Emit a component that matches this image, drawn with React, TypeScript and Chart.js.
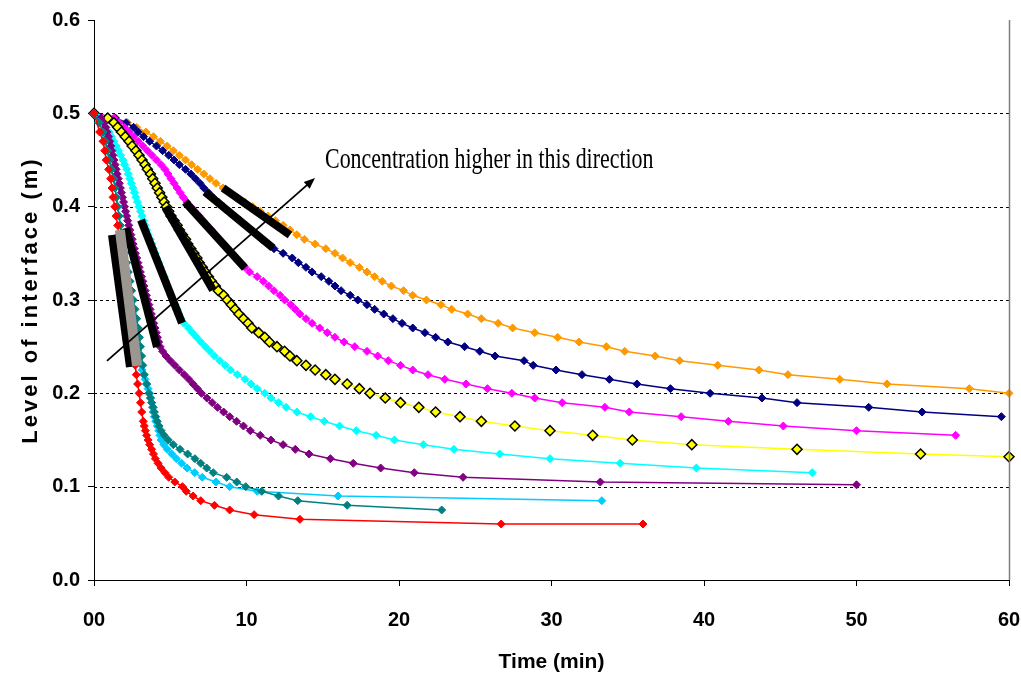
import React, { useEffect, useRef } from 'react';
import { Chart, registerables } from 'chart.js';

Chart.register(...registerables);

// ---------- axis ticks ----------
const xTickLabels = ['00', '10', '20', '30', '40', '50', '60'];
const yTickLabels = ['0.0', '0.1', '0.2', '0.3', '0.4', '0.5', '0.6'];

// ---------- measured interface levels (m), 5 mm steps ----------
const levels = [
  0.5, 0.495, 0.49, 0.485, 0.48, 0.475, 0.47, 0.465, 0.46, 0.455,
  0.45, 0.445, 0.44, 0.435, 0.43, 0.425, 0.42, 0.415, 0.41, 0.405,
  0.4, 0.395, 0.39, 0.385, 0.38, 0.375, 0.37, 0.365, 0.36, 0.355,
  0.35, 0.345, 0.34, 0.335, 0.33, 0.325, 0.32, 0.315, 0.31, 0.305,
  0.3, 0.295, 0.29, 0.285, 0.28, 0.275, 0.27, 0.265, 0.26, 0.255,
  0.25, 0.245, 0.24, 0.235, 0.23, 0.225, 0.22, 0.215, 0.21, 0.205,
  0.2, 0.195, 0.19, 0.185, 0.18, 0.175, 0.17, 0.165, 0.16, 0.155,
  0.15, 0.145, 0.14, 0.135, 0.13, 0.125, 0.12, 0.115, 0.11, 0.105,
  0.1,
];

// ---------- times (min) for each series ----------
const orangeT = [
  0, 1.4, 2.2, 2.8, 3.4, 3.9, 4.35, 4.8, 5.2, 5.6,
  6.0, 6.4, 6.8, 7.2, 7.6, 8.0, 8.46, 8.9, 9.4, 9.9,
  10.4, 10.9, 11.4, 11.9, 12.4, 12.85, 13.3, 13.8, 14.5, 15.2,
  15.8, 16.3, 16.8, 17.4, 17.9, 18.4, 18.9, 19.5, 20.3, 20.9,
  21.8, 22.75, 23.45, 24.5, 25.4, 26.5, 27.45, 28.9, 30.4, 31.8,
  33.6, 34.8, 36.8, 38.4, 40.9, 43.6, 45.5, 48.9, 52.0, 57.4,
  60.0,
];
const orangeH = levels.slice(0, 61);

const navyT = [
  0, 1.4, 2.1, 2.6, 2.9, 3.25, 3.65, 4.1, 4.5, 4.9,
  5.25, 5.6, 6.0, 6.35, 6.65, 6.95, 7.2, 7.5, 7.8, 8.15,
  8.5, 8.85, 9.2, 9.6, 9.95, 10.3, 10.65, 11.0, 11.4, 11.8,
  12.4, 13.0, 13.4, 13.9, 14.3, 14.9, 15.4, 15.8, 16.2, 16.8,
  17.3, 17.9, 18.4, 19.0, 19.6, 20.2, 20.9, 21.7, 22.4, 23.2,
  24.3, 25.3, 26.3, 28.2, 28.8, 30.3, 32.0, 33.8, 35.6, 37.8,
  40.4, 43.8, 46.1, 50.8, 54.3, 59.5,
];
const navyH = levels.slice(0, 66);

const magentaT = [
  0, 1.3, 1.65, 2.0, 2.3, 2.6, 2.9, 3.2, 3.5, 3.8,
  4.1, 4.4, 4.65, 4.85, 5.05, 5.25, 5.45, 5.65, 5.85, 6.1,
  6.35, 6.6, 6.9, 7.15, 7.4, 7.7, 7.95, 8.2, 8.5, 8.75,
  9.05, 9.3, 9.6, 9.9, 10.2, 10.7, 11.1, 11.45, 11.8, 12.2,
  12.5, 12.9, 13.2, 13.5, 13.9, 14.3, 14.8, 15.3, 15.8, 16.4,
  17.1, 17.9, 18.6, 19.3, 20.1, 20.9, 21.9, 23.0, 24.4, 25.8,
  27.4, 28.9, 30.7, 33.5, 35.1, 38.5, 41.6, 45.2, 50.0, 56.5,
];
const magentaH = levels.slice(0, 70);

const yellowT = [
  0, 0.9, 1.3, 1.55, 1.8, 2.05, 2.3, 2.5, 2.75, 2.95,
  3.15, 3.35, 3.5, 3.7, 3.85, 4.0, 4.15, 4.3, 4.45, 4.6,
  4.75, 4.9, 5.05, 5.25, 5.45, 5.6, 5.8, 6.0, 6.15, 6.35,
  6.55, 6.75, 6.9, 7.1, 7.3, 7.5, 7.7, 7.95, 8.15, 8.5,
  8.74, 9.0, 9.25, 9.5, 9.8, 10.1, 10.35, 10.8, 11.2, 11.5,
  12.0, 12.5, 12.85, 13.3, 13.9, 14.5, 15.2, 15.8, 16.6, 17.4,
  18.1, 19.1, 20.1, 21.3, 22.4, 24.0, 25.4, 27.6, 29.9, 32.7,
  35.3, 39.2, 46.1, 54.2, 60.0,
];
const yellowH = [...levels.slice(0, 74), 0.132];

const cyanT = [
  0, 0.3, 0.55, 0.8, 1.0, 1.15, 1.3, 1.45, 1.6, 1.75,
  1.9, 2.0, 2.15, 2.25, 2.35, 2.45, 2.55, 2.65, 2.75, 2.85,
  2.95, 3.05, 3.15, 3.25, 3.35, 3.45, 3.55, 3.7, 3.8, 3.9,
  4.0, 4.1, 4.25, 4.35, 4.45, 4.6, 4.7, 4.8, 4.95, 5.05,
  5.2, 5.3, 5.45, 5.55, 5.7, 5.9, 6.2, 6.45, 6.73, 7.0,
  7.3, 7.6, 7.9, 8.25, 8.6, 8.95, 9.4, 9.9, 10.3, 10.7,
  11.2, 11.6, 12.1, 12.6, 13.3, 14.2, 15.1, 16.1, 17.2, 18.5,
  19.7, 21.6, 23.6, 26.6, 29.9, 34.5, 39.5, 47.1,
];
const cyanH = levels.slice(0, 78);

const purpleT = [
  0, 0.45, 0.63, 0.76, 0.86, 0.95, 1.03, 1.1, 1.17, 1.24,
  1.31, 1.38, 1.45, 1.52, 1.59, 1.66, 1.73, 1.8, 1.87, 1.94,
  2.0, 2.07, 2.14, 2.21, 2.28, 2.35, 2.42, 2.5, 2.57, 2.65,
  2.72, 2.8, 2.88, 2.96, 3.04, 3.12, 3.2, 3.28, 3.36, 3.44,
  3.52, 3.6, 3.68, 3.76, 3.84, 3.92, 4.0, 4.08, 4.16, 4.24,
  4.33, 4.5, 4.72, 5.0, 5.3, 5.6, 5.92, 6.22, 6.5, 6.78,
  7.05, 7.4, 7.75, 8.1, 8.5, 8.9, 9.35, 9.8, 10.25, 10.9,
  11.6, 12.4, 13.2, 14.1, 15.5, 17.0, 18.8, 21.0, 24.2, 33.2,
  50.0,
];
const purpleH = [...levels.slice(0, 80), 0.102];

const lightBlueT = [
  0, 0.3, 0.5, 0.65, 0.8, 0.98, 1.12, 1.28, 1.38, 1.48,
  1.57, 1.66, 1.73, 1.82, 1.92, 2.02, 2.12, 2.22, 2.32, 2.42,
  2.52, 2.62, 2.72, 2.8, 2.88, 2.96, 3.04, 3.12,
  3.15, 3.25, 3.35, 3.45, 3.55, 3.65, 3.72, 3.78, 3.83, 3.88,
  3.95, 4.05, 4.15, 4.25, 4.32, 4.4, 4.58, 4.8, 5.1, 5.4,
  5.75, 6.1, 6.6, 7.1, 8.0, 8.9, 10.7, 16.0, 33.3,
];
const lightBlueH = [
  0.5, 0.49, 0.48, 0.47, 0.46, 0.45, 0.44, 0.43, 0.42, 0.41,
  0.4, 0.39, 0.38, 0.37, 0.36, 0.35, 0.34, 0.33, 0.32, 0.31,
  0.3, 0.29, 0.28, 0.27, 0.26, 0.25, 0.24, 0.23,
  0.225, 0.22, 0.215, 0.21, 0.205, 0.2, 0.195, 0.19, 0.185, 0.18,
  0.175, 0.17, 0.165, 0.16, 0.155, 0.15, 0.145, 0.14, 0.135, 0.13,
  0.125, 0.12, 0.115, 0.11, 0.105, 0.1, 0.095, 0.09, 0.085,
];

const tealT = [
  0, 0.35, 0.6, 0.75, 0.9, 1.03, 1.15, 1.28, 1.38, 1.46,
  1.54, 1.63, 1.72, 1.82, 1.92, 2.03, 2.14, 2.25, 2.36, 2.47,
  2.58, 2.69, 2.8, 2.9, 2.98, 3.05, 3.12, 3.2, 3.3, 3.45,
  3.6,
  3.7, 3.78, 3.88, 3.96, 4.05, 4.15, 4.27, 4.4, 4.6, 4.87,
  5.2, 5.64, 6.14, 6.62, 7.0, 7.39, 7.82, 8.7, 9.36, 9.95,
  11.0, 12.1, 13.36, 16.6, 22.8,
];
const tealH = [
  0.5, 0.49, 0.48, 0.47, 0.46, 0.45, 0.44, 0.43, 0.42, 0.41,
  0.4, 0.39, 0.38, 0.37, 0.36, 0.35, 0.34, 0.33, 0.32, 0.31,
  0.3, 0.29, 0.28, 0.27, 0.26, 0.25, 0.24, 0.23, 0.22, 0.21,
  0.2,
  0.195, 0.19, 0.185, 0.18, 0.175, 0.17, 0.165, 0.16, 0.155, 0.15,
  0.145, 0.14, 0.135, 0.13, 0.125, 0.12, 0.115, 0.11, 0.105, 0.1,
  0.095, 0.09, 0.085, 0.08, 0.075,
];

const redT = [
  0, 0.37, 0.59, 0.7, 0.8, 0.96, 1.09, 1.18, 1.25, 1.36,
  1.45, 1.55, 1.65, 1.75, 1.85, 1.95, 2.05, 2.15, 2.25, 2.32,
  2.4, 2.47, 2.53, 2.58, 2.62, 2.66, 2.7, 2.77, 2.86, 2.96,
  3.05, 3.13, 3.23, 3.3, 3.37, 3.45, 3.55, 3.65, 3.78, 3.9,
  4.02, 4.2, 4.4, 4.65, 4.9, 5.3, 5.8, 6.05, 6.5, 7.0,
  7.9, 8.9, 10.5, 13.5, 26.7, 36.0,
];
const redH = [
  0.5, 0.48, 0.47, 0.46, 0.45, 0.44, 0.43, 0.42, 0.41, 0.4,
  0.39, 0.38, 0.37, 0.36, 0.35, 0.34, 0.33, 0.32, 0.31, 0.3,
  0.29, 0.28, 0.27, 0.26, 0.25, 0.24, 0.23, 0.22, 0.21, 0.2,
  0.19, 0.18, 0.17, 0.165, 0.16, 0.155, 0.15, 0.145, 0.14, 0.135,
  0.13, 0.125, 0.12, 0.115, 0.11, 0.105, 0.1, 0.095, 0.09, 0.085,
  0.08, 0.075, 0.07, 0.065, 0.06, 0.06,
];

// ---------- tangent lines [t1, h1, t2, h2] ----------
const tangentOrange = [8.46, 0.42, 12.85, 0.3697];
const tangentNavy = [7.28, 0.4157, 11.74, 0.3557];
const tangentMagenta = [5.97, 0.405, 9.9, 0.3343];
const tangentYellow = [4.66, 0.3997, 7.8, 0.3107];
const tangentCyan = [3.08, 0.3857, 5.77, 0.2754];
const tangentPurple = [2.1, 0.3772, 4.13, 0.2496];
const tangentGray = [1.7, 0.375, 2.82, 0.2293];
const tangentRed = [1.18, 0.3697, 2.36, 0.2282];

// ---------- annotation ----------
const arrowStart = [0.85, 0.2347];
const arrowEnd = [14.49, 0.4307];
const annotationText = 'Concentration higher in this direction';
const annotationPos = [15.15, 0.45];
const xTitle = 'Time (min)';
const yTitle = 'Level of interface (m)';

type Series = { t: number[]; h: number[]; color: string; order: number; marker?: string; radius?: number };

const seriesList: Series[] = [
  { t: redT, h: redH, color: '#FF0000', order: 1 },
  { t: tealT, h: tealH, color: '#008080', order: 2 },
  { t: lightBlueT, h: lightBlueH, color: '#00CCFF', order: 3 },
  { t: purpleT, h: purpleH, color: '#800080', order: 4 },
  { t: cyanT, h: cyanH, color: '#00FFFF', order: 5 },
  { t: yellowT, h: yellowH, color: '#FFFF00', order: 6, marker: '#000000', radius: 5 },
  { t: magentaT, h: magentaH, color: '#FF00FF', order: 7 },
  { t: navyT, h: navyH, color: '#000080', order: 8 },
  { t: orangeT, h: orangeH, color: '#FF9900', order: 9 },
];

const tangents = [
  { seg: tangentGray, color: '#9C9690', width: 10 },
  { seg: tangentRed, color: '#000000', width: 8 },
  { seg: tangentPurple, color: '#000000', width: 8 },
  { seg: tangentCyan, color: '#000000', width: 8 },
  { seg: tangentYellow, color: '#000000', width: 8 },
  { seg: tangentMagenta, color: '#000000', width: 8 },
  { seg: tangentNavy, color: '#000000', width: 8 },
  { seg: tangentOrange, color: '#000000', width: 8 },
];

const SANS = 'Arial, "Liberation Sans", sans-serif';
const SERIF = '"Times New Roman", "Liberation Serif", serif';

const decorPlugin = {
  id: 'decor',
  beforeDatasetsDraw(chart: any) {
    const { ctx, chartArea, scales } = chart;
    const y = scales.y;
    ctx.save();
    ctx.strokeStyle = '#000';
    ctx.lineWidth = 1;
    ctx.setLineDash([3, 3]);
    y.ticks.forEach((tk: any, i: number) => {
      if (i === 0 || i === y.ticks.length - 1) return;
      const py = Math.round(y.getPixelForValue(tk.value)) + 0.5;
      ctx.beginPath();
      ctx.moveTo(chartArea.left, py);
      ctx.lineTo(chartArea.right, py);
      ctx.stroke();
    });
    ctx.restore();
  },
  afterDatasetsDraw(chart: any) {
    const { ctx, scales } = chart;
    const x = scales.x;
    const y = scales.y;
    // arrow
    const x1 = x.getPixelForValue(arrowStart[0]);
    const y1 = y.getPixelForValue(arrowStart[1]);
    const x2 = x.getPixelForValue(arrowEnd[0]);
    const y2 = y.getPixelForValue(arrowEnd[1]);
    const ang = Math.atan2(y2 - y1, x2 - x1);
    const headLen = 11;
    const headW = 4.5;
    ctx.save();
    ctx.strokeStyle = '#000';
    ctx.fillStyle = '#000';
    ctx.lineWidth = 1.8;
    ctx.beginPath();
    ctx.moveTo(x1, y1);
    ctx.lineTo(x2 - Math.cos(ang) * headLen * 0.8, y2 - Math.sin(ang) * headLen * 0.8);
    ctx.stroke();
    ctx.beginPath();
    ctx.moveTo(x2, y2);
    ctx.lineTo(
      x2 - Math.cos(ang) * headLen + Math.sin(ang) * headW,
      y2 - Math.sin(ang) * headLen - Math.cos(ang) * headW
    );
    ctx.lineTo(
      x2 - Math.cos(ang) * headLen - Math.sin(ang) * headW,
      y2 - Math.sin(ang) * headLen + Math.cos(ang) * headW
    );
    ctx.closePath();
    ctx.fill();
    // annotation text
    const tx = x.getPixelForValue(annotationPos[0]);
    const ty = y.getPixelForValue(annotationPos[1]);
    ctx.translate(tx, ty);
    ctx.scale(0.73, 1);
    ctx.font = `30px ${SERIF}`;
    ctx.textAlign = 'left';
    ctx.textBaseline = 'middle';
    ctx.fillText(annotationText, 0, 0);
    ctx.restore();
  },
  afterDraw(chart: any) {
    const { ctx, chartArea } = chart;
    ctx.save();
    // right border of plot area
    ctx.strokeStyle = '#808080';
    ctx.lineWidth = 1.5;
    ctx.beginPath();
    ctx.moveTo(chartArea.right + 0.5, chartArea.top);
    ctx.lineTo(chartArea.right + 0.5, chartArea.bottom);
    ctx.stroke();
    // axis titles
    ctx.fillStyle = '#000';
    ctx.font = `bold 21px ${SANS}`;
    ctx.textAlign = 'center';
    ctx.textBaseline = 'middle';
    ctx.fillText(xTitle, (chartArea.left + chartArea.right) / 2, 662);
    ctx.translate(31, (chartArea.top + chartArea.bottom) / 2);
    ctx.rotate(-Math.PI / 2);
    (ctx as any).letterSpacing = '3px';
    ctx.font = `bold 22px ${SANS}`;
    ctx.fillText(yTitle, 0, 0);
    ctx.restore();
  },
};

export default function App() {
  const canvasRef = useRef<HTMLCanvasElement | null>(null);

  useEffect(() => {
    if (!canvasRef.current) return;
    const datasets: any[] = [];
    tangents.forEach((tg) => {
      datasets.push({
        data: [
          { x: tg.seg[0], y: tg.seg[1] },
          { x: tg.seg[2], y: tg.seg[3] },
        ],
        borderColor: tg.color,
        borderWidth: tg.width,
        borderCapStyle: 'butt',
        pointRadius: 0,
        order: 0,
        clip: false,
      });
    });
    seriesList.forEach((s) => {
      datasets.push({
        data: s.t.map((tv, i) => ({ x: tv, y: s.h[i] })),
        borderColor: s.color,
        borderWidth: 1.5,
        pointStyle: 'rectRot',
        pointRadius: s.radius ?? 4,
        pointBackgroundColor: s.color,
        pointBorderColor: s.marker ?? s.color,
        pointBorderWidth: s.marker ? 1.5 : 1,
        tension: 0,
        order: s.order,
        clip: 8,
      });
    });

    const chart = new Chart(canvasRef.current, {
      type: 'line',
      data: { datasets },
      plugins: [decorPlugin],
      options: {
        animation: false,
        responsive: false,
        devicePixelRatio: 1,
        layout: { padding: { top: 20, right: 12, left: 0, bottom: 0 } },
        plugins: { legend: { display: false }, tooltip: { enabled: false } },
        scales: {
          x: {
            type: 'linear',
            min: 0,
            max: 60,
            afterFit: (scale: any) => {
              scale.height = 101;
              scale.paddingRight = 0;
              scale.paddingLeft = 0;
            },
            ticks: {
              stepSize: 10,
              autoSkip: false,
              maxRotation: 0,
              padding: 22,
              color: '#000',
              font: { family: SANS, size: 20, weight: 'bold' },
              callback: (_v: any, i: number) => xTickLabels[i],
            },
            grid: {
              display: true,
              drawOnChartArea: false,
              drawTicks: true,
              tickLength: 6,
              color: '#000',
              tickColor: '#000',
            },
            border: { display: true, color: '#000', width: 1 },
          },
          y: {
            type: 'linear',
            min: 0,
            max: 0.6,
            afterFit: (scale: any) => {
              scale.width = 94;
              scale.paddingTop = 0;
              scale.paddingBottom = 0;
            },
            ticks: {
              stepSize: 0.1,
              autoSkip: false,
              padding: 8,
              color: '#000',
              font: { family: SANS, size: 20, weight: 'bold' },
              callback: (_v: any, i: number) => yTickLabels[i],
            },
            grid: {
              display: true,
              drawOnChartArea: false,
              drawTicks: true,
              tickLength: 6,
              color: '#000',
              tickColor: '#000',
            },
            border: { display: true, color: '#000', width: 1 },
          },
        },
      } as any,
    });
    return () => chart.destroy();
  }, []);

  return (
    <div style={{ position: 'absolute', left: 0, top: 0, width: 1021, height: 681, background: '#fff' }}>
      <canvas ref={canvasRef} width={1021} height={681} style={{ display: 'block' }} />
    </div>
  );
}
